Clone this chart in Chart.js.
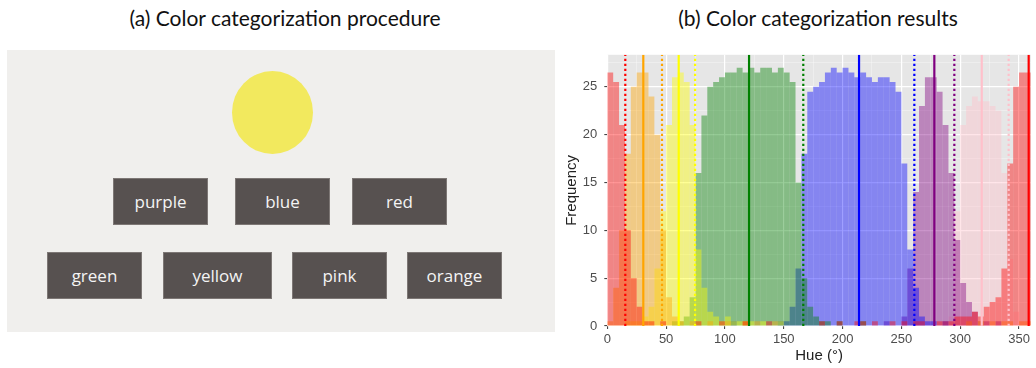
<!DOCTYPE html>
<html lang="en">
<head>
<meta charset="UTF-8">
<title>Color categorization</title>
<script src="https://cdn.jsdelivr.net/npm/chart.js@4.4.1/dist/chart.umd.min.js"></script>
<style>
  html, body { margin: 0; padding: 0; background: #fff; }
  #page { position: relative; width: 1036px; height: 368px; overflow: hidden; font-family: 'Open Sans', sans-serif; }
  .title { position: absolute; top: 5px; font-family: Lato, sans-serif; font-size: 21px; color: #111; white-space: nowrap; transform: translateX(-50%); }
  #panelA { position: absolute; left: 7px; top: 50px; width: 548px; height: 282px; background: #f0efed; }
  #stimulus { position: absolute; left: 232px; top: 71px; width: 81px; height: 83px; border-radius: 50%; background: #f2e95e; }
  .choice { position: absolute; height: 47px; background: #575150; border: 1px solid #7d7775; box-sizing: border-box;
            color: #f4f4f4; font-size: 17px; display: flex; align-items: center; justify-content: center; }
  #chartBox { position: absolute; left: 540px; top: 40px; width: 496px; height: 328px; }
</style>
</head>
<body>
<div id="page">
  <div class="title" style="left:285px">(a) Color categorization procedure</div>
  <div class="title" style="left:818px">(b) Color categorization results</div>

  <!-- left panel: the task screen -->
  <div id="panelA"></div>
  <div id="stimulus"></div>
  <div class="choice" style="left:113px; top:178px; width:95px">purple</div>
  <div class="choice" style="left:235px; top:178px; width:95px">blue</div>
  <div class="choice" style="left:352px; top:178px; width:95px">red</div>
  <div class="choice" style="left:47px;  top:252px; width:95px">green</div>
  <div class="choice" style="left:163px; top:252px; width:109px">yellow</div>
  <div class="choice" style="left:292px; top:252px; width:95px">pink</div>
  <div class="choice" style="left:407px; top:252px; width:95px">orange</div>

  <div id="chartBox"><canvas id="hueChart" width="496" height="328"></canvas></div>
</div>
<script>
// hue histogram, 5 degree bins starting at 0
const binWidth = 5;
const categoryNames = ['red', 'orange', 'yellow', 'green', 'blue', 'purple', 'pink'];

const redCounts = [
  26.5, 25.5, 21, 10, 5, 2, 0.5, 0.5, 0, 0.5, 0, 0,
  0, 0, 0, 0.5, 0, 0, 0, 0.5, 0, 0, 0, 0.5,
  0, 0, 0, 0.5, 0, 0, 0, 0, 0, 0, 0, 0,
  0.5, 0, 0, 0.5, 0, 0, 0.5, 0.5, 0, 0.5, 0, 0,
  0.5, 0, 0.5, 0, 0.5, 0.5, 0, 0, 0.5, 0.5, 0.5, 1,
  1, 1, 1.5, 1, 2, 2.5, 3, 6, 17, 25, 26.5, 26.5
];
const orangeCounts = [
  0.5, 4, 10, 18, 25, 26.5, 26.5, 24, 20, 10, 3, 1,
  0.5, 0, 0.5, 0, 0, 0.5, 0, 0, 0.5, 0, 0, 0.5,
  0, 0.5, 0, 0, 0.5, 0, 0, 0, 0, 0, 0, 0,
  0, 0, 0, 0, 0, 0, 0, 0, 0, 0, 0, 0,
  0, 0, 0, 0, 0, 0, 0, 0, 0, 0, 0, 0,
  0, 0.5, 0, 0, 0, 0.5, 0, 0.5, 0.5, 0, 0.5, 0.5
];
const yellowCounts = [
  0, 0, 0, 0.5, 0.5, 0.5, 1, 2, 6, 12, 21, 26,
  26.5, 25.5, 21, 8, 4, 1.5, 1, 0.5, 1, 0.5, 0.5, 0.5,
  0.5, 0, 0.5, 0, 0, 0.5, 0, 0, 0, 0, 0, 0,
  0, 0, 0, 0, 0, 0, 0, 0, 0, 0, 0, 0,
  0, 0, 0, 0, 0, 0, 0, 0, 0, 0, 0, 0,
  0, 0, 0, 0.5, 0, 0, 0, 0, 0, 0, 0, 0
];
const greenCounts = [
  0, 0, 0, 0, 0, 0, 0, 0, 0, 0, 0, 0.5,
  0.5, 1, 3, 16, 22, 25, 25.5, 26, 26.5, 26.5, 27, 26.5,
  27, 26.5, 27, 27, 26.5, 27, 26.5, 25.5, 15, 5, 2, 1,
  0.5, 0.5, 0, 0.5, 0, 0, 0, 0.5, 0, 0, 0, 0,
  0, 0, 0, 0, 0, 0, 0, 0, 0, 0, 0, 0,
  0, 0, 0, 0, 0, 0, 0, 0, 0, 0, 0, 0
];
const blueCounts = [
  0, 0, 0, 0, 0, 0, 0, 0, 0, 0, 0, 0,
  0, 0, 0, 0, 0, 0, 0, 0, 0, 0.5, 0, 0,
  0, 0, 0, 0, 0, 0.5, 0.5, 2, 6, 18, 24.5, 25,
  25.5, 26.5, 27, 26.5, 27, 26.5, 26, 26.5, 26, 25.5, 26, 26,
  25.5, 24.5, 17, 8, 4, 1, 0.5, 0.5, 0, 0.5, 0, 0,
  0, 0, 0, 0, 0, 0, 0, 0, 0, 0, 0, 0
];
const purpleCounts = [
  0, 0, 0, 0, 0, 0, 0, 0, 0, 0, 0, 0,
  0, 0, 0, 0, 0, 0, 0, 0, 0, 0, 0, 0,
  0, 0, 0, 0, 0, 0, 0, 0, 0, 0, 0, 0,
  0, 0, 0, 0, 0, 0, 0, 0, 0, 0, 0, 0.5,
  0, 0, 1, 6, 14, 23, 26, 26, 24.5, 21, 16, 9,
  4.5, 2.5, 1.5, 0.5, 0.5, 0, 0.5, 0, 0, 0, 0, 0
];
const pinkCounts = [
  0, 0, 0, 0, 0, 0, 0, 0, 0, 0, 0, 0,
  0, 0, 0, 0, 0, 0, 0, 0, 0, 0, 0, 0,
  0, 0, 0, 0, 0, 0, 0, 0, 0, 0, 0, 0,
  0, 0, 0, 0, 0, 0, 0, 0, 0, 0, 0, 0,
  0, 0, 0, 0, 0, 0, 0, 0, 0, 0, 1, 12,
  21, 23, 24, 23.5, 23.5, 23, 22.5, 16, 7, 1.5, 0.5, 0.5
];

// solid = category centre, dotted = boundary
const meanHues     = [358.2, 30.6, 60.7, 120.5, 214, 278, 318.3];
const boundaryHues = [15.3, 46.5, 74.6, 166.6, 261, 295, 341.2];

const hueTicks  = [0, 50, 100, 150, 200, 250, 300, 350];
const freqTicks = [0, 5, 10, 15, 20, 25];

const countSeries = [redCounts, orangeCounts, yellowCounts, greenCounts, blueCounts, purpleCounts, pinkCounts];
const lineColors = ['#ff0000', '#ffa500', '#ffff00', '#008000', '#0000ff', '#800080', '#ffc0cb'];
const fillColors = ['rgba(255,0,0,0.42)', 'rgba(255,165,0,0.42)', 'rgba(255,255,0,0.42)', 'rgba(0,128,0,0.42)',
                    'rgba(0,0,255,0.42)', 'rgba(128,0,128,0.42)', 'rgba(255,192,203,0.42)'];

const plotBackground = {
  id: 'plotBackground',
  beforeDraw(chart) {
    const { ctx, chartArea: a } = chart;
    ctx.save();
    ctx.fillStyle = '#e6e6e6';
    ctx.fillRect(a.left, a.top, a.width, a.height);
    ctx.restore();
  }
};

const hueLines = {
  id: 'hueLines',
  afterDatasetsDraw(chart) {
    const { ctx, chartArea: a, scales: { x } } = chart;
    ctx.save();
    ctx.beginPath();
    ctx.rect(a.left, a.top, a.width, a.height);
    ctx.clip();
    categoryNames.forEach((name, i) => {
      [[meanHues[i], []], [boundaryHues[i], [2.2, 2.8]]].forEach(([h, dash]) => {
        const px = x.getPixelForValue(h);
        ctx.strokeStyle = lineColors[i];
        ctx.lineWidth = 2.2;
        ctx.setLineDash(dash);
        ctx.beginPath();
        ctx.moveTo(px, a.bottom);
        ctx.lineTo(px, a.top);
        ctx.stroke();
      });
    });
    ctx.restore();
  }
};

Chart.defaults.font.family = "'Liberation Sans', Arial, sans-serif";

new Chart(document.getElementById('hueChart'), {
  type: 'bar',
  data: {
    datasets: categoryNames.map((name, i) => ({
      label: name,
      data: countSeries[i].map((c, k) => ({ x: k * binWidth + binWidth / 2, y: c })),
      backgroundColor: fillColors[i],
      borderWidth: 0,
      inflateAmount: 0,
      barPercentage: 1,
      categoryPercentage: 1,
      grouped: false
    }))
  },
  options: {
    responsive: false,
    animation: false,
    layout: { padding: { top: 11, right: 5.2, left: 0, bottom: 0 } },
    plugins: { legend: { display: false }, tooltip: { enabled: false } },
    scales: {
      x: {
        type: 'linear',
        min: 0,
        max: 360,
        offset: false,
        border: { display: false },
        grid: {
          offset: false,
          color: c => (c.tick && c.tick.value % 50 === 0) ? '#ffffff' : 'rgba(255,255,255,0.55)',
          lineWidth: c => (c.tick && c.tick.value % 50 === 0) ? 1.2 : 0.6,
          tickColor: c => (c.tick && c.tick.value % 50 === 0) ? '#333333' : 'rgba(0,0,0,0)',
          tickLength: 3,
          tickWidth: 1
        },
        ticks: {
          stepSize: 25,
          autoSkip: false,
          maxRotation: 0,
          includeBounds: false,
          padding: 3,
          color: '#4d4d4d',
          font: { size: 13 },
          callback: v => hueTicks.includes(v) ? String(v) : ''
        },
        title: { display: true, text: 'Hue (°)', color: '#222', font: { size: 15 }, padding: { top: 0, bottom: 3 } },
        afterFit: s => { s.height = 42; }
      },
      y: {
        min: 0,
        max: 28.35,
        border: { display: false },
        grid: {
          color: c => (c.tick && c.tick.value % 5 === 0) ? '#ffffff' : 'rgba(255,255,255,0.55)',
          lineWidth: c => (c.tick && c.tick.value % 5 === 0) ? 1.2 : 0.6,
          tickColor: c => (c.tick && c.tick.value % 5 === 0) ? '#333333' : 'rgba(0,0,0,0)',
          tickLength: 3,
          tickWidth: 1
        },
        ticks: {
          stepSize: 2.5,
          autoSkip: false,
          includeBounds: false,
          padding: 7,
          color: '#4d4d4d',
          font: { size: 13 },
          callback: v => freqTicks.includes(v) ? String(v) : ''
        },
        title: { display: true, text: 'Frequency', color: '#222', font: { size: 15 }, padding: { top: 23, bottom: 0 } },
        afterFit: s => { s.width = 67.3; }
      }
    }
  },
  plugins: [plotBackground, hueLines]
});
</script>
</body>
</html>
